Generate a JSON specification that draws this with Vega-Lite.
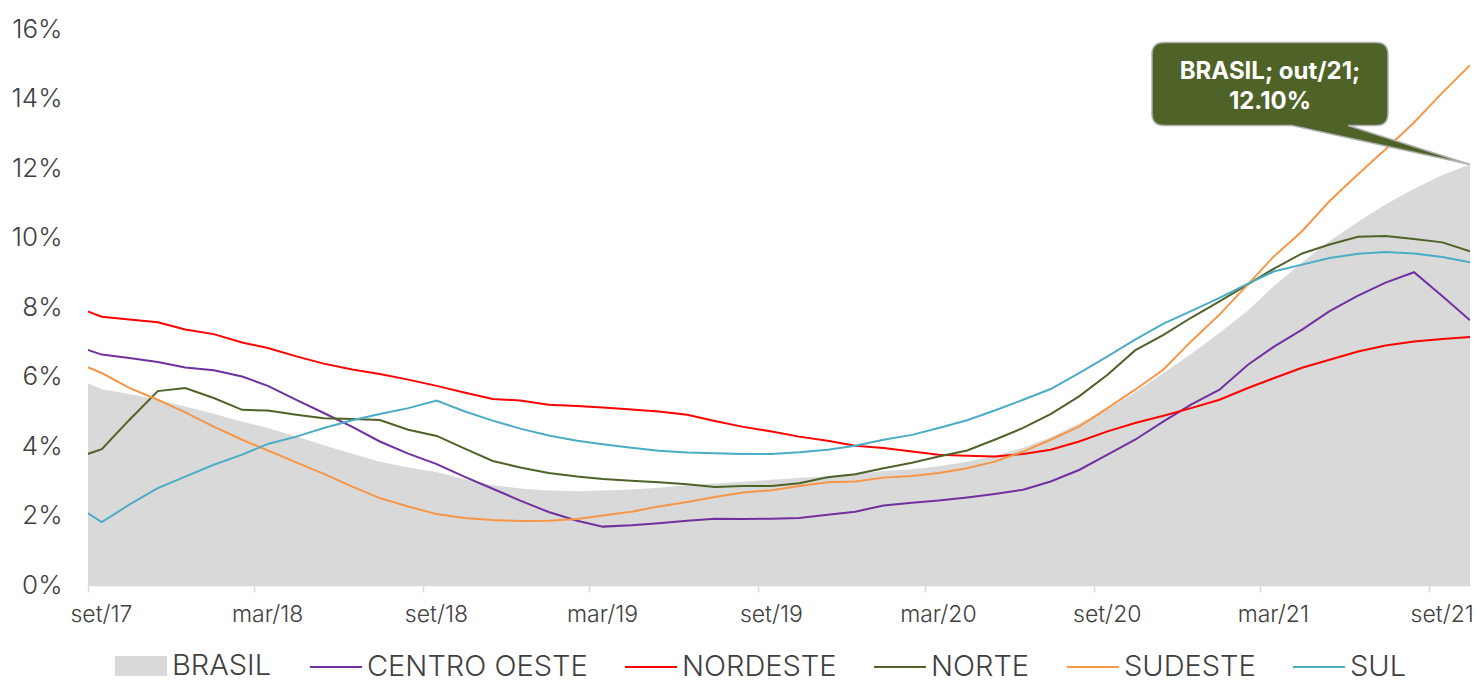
{
  "$schema": "https://vega.github.io/schema/vega-lite/v6.json",
  "autosize": {"type": "none"},
  "padding": {"left": 88, "top": 29, "right": 7, "bottom": 97},
  "width": 1382,
  "height": 556,
  "background": "white",
  "config": {
    "view": {"stroke": null},
    "font": "Inter",
    "axis": {"grid": false, "labelColor": "#404040", "labelFont": "Inter", "labelFontWeight": 300, "title": null},
    "legend": {"labelFont": "Inter", "labelFontWeight": 300}
  },
  "datasets": {
    "serie": [
      {"mes": "2017-08-16", "BRASIL": 5.99, "CENTRO OESTE": 6.90, "NORDESTE": 8.03, "NORTE": 3.63, "SUDESTE": 6.44, "SUL": 2.33},
      {"mes": "2017-09-16", "BRASIL": 5.63, "CENTRO OESTE": 6.63, "NORDESTE": 7.72, "NORTE": 3.91, "SUDESTE": 6.10, "SUL": 1.81},
      {"mes": "2017-10-16", "BRASIL": 5.50, "CENTRO OESTE": 6.53, "NORDESTE": 7.64, "NORTE": 4.75, "SUDESTE": 5.67, "SUL": 2.31},
      {"mes": "2017-11-16", "BRASIL": 5.33, "CENTRO OESTE": 6.42, "NORDESTE": 7.56, "NORTE": 5.58, "SUDESTE": 5.33, "SUL": 2.79},
      {"mes": "2017-12-16", "BRASIL": 5.14, "CENTRO OESTE": 6.26, "NORDESTE": 7.35, "NORTE": 5.67, "SUDESTE": 4.97, "SUL": 3.12},
      {"mes": "2018-01-16", "BRASIL": 4.93, "CENTRO OESTE": 6.18, "NORDESTE": 7.22, "NORTE": 5.38, "SUDESTE": 4.56, "SUL": 3.46},
      {"mes": "2018-02-16", "BRASIL": 4.70, "CENTRO OESTE": 6.00, "NORDESTE": 6.98, "NORTE": 5.04, "SUDESTE": 4.18, "SUL": 3.75},
      {"mes": "2018-03-16", "BRASIL": 4.52, "CENTRO OESTE": 5.73, "NORDESTE": 6.82, "NORTE": 5.02, "SUDESTE": 3.87, "SUL": 4.06},
      {"mes": "2018-04-16", "BRASIL": 4.27, "CENTRO OESTE": 5.33, "NORDESTE": 6.58, "NORTE": 4.90, "SUDESTE": 3.53, "SUL": 4.27},
      {"mes": "2018-05-16", "BRASIL": 4.02, "CENTRO OESTE": 4.95, "NORDESTE": 6.37, "NORTE": 4.80, "SUDESTE": 3.20, "SUL": 4.52},
      {"mes": "2018-06-16", "BRASIL": 3.78, "CENTRO OESTE": 4.55, "NORDESTE": 6.20, "NORTE": 4.78, "SUDESTE": 2.83, "SUL": 4.74},
      {"mes": "2018-07-16", "BRASIL": 3.55, "CENTRO OESTE": 4.13, "NORDESTE": 6.07, "NORTE": 4.75, "SUDESTE": 2.50, "SUL": 4.92},
      {"mes": "2018-08-16", "BRASIL": 3.38, "CENTRO OESTE": 3.78, "NORDESTE": 5.91, "NORTE": 4.47, "SUDESTE": 2.26, "SUL": 5.09},
      {"mes": "2018-09-16", "BRASIL": 3.25, "CENTRO OESTE": 3.48, "NORDESTE": 5.73, "NORTE": 4.29, "SUDESTE": 2.04, "SUL": 5.31},
      {"mes": "2018-10-16", "BRASIL": 3.05, "CENTRO OESTE": 3.12, "NORDESTE": 5.54, "NORTE": 3.93, "SUDESTE": 1.93, "SUL": 5.00},
      {"mes": "2018-11-16", "BRASIL": 2.87, "CENTRO OESTE": 2.77, "NORDESTE": 5.35, "NORTE": 3.57, "SUDESTE": 1.87, "SUL": 4.73},
      {"mes": "2018-12-16", "BRASIL": 2.78, "CENTRO OESTE": 2.43, "NORDESTE": 5.31, "NORTE": 3.38, "SUDESTE": 1.84, "SUL": 4.50},
      {"mes": "2019-01-16", "BRASIL": 2.72, "CENTRO OESTE": 2.10, "NORDESTE": 5.19, "NORTE": 3.22, "SUDESTE": 1.85, "SUL": 4.30},
      {"mes": "2019-02-16", "BRASIL": 2.70, "CENTRO OESTE": 1.85, "NORDESTE": 5.15, "NORTE": 3.12, "SUDESTE": 1.90, "SUL": 4.15},
      {"mes": "2019-03-16", "BRASIL": 2.72, "CENTRO OESTE": 1.68, "NORDESTE": 5.11, "NORTE": 3.05, "SUDESTE": 2.00, "SUL": 4.05},
      {"mes": "2019-04-16", "BRASIL": 2.75, "CENTRO OESTE": 1.72, "NORDESTE": 5.05, "NORTE": 3.00, "SUDESTE": 2.11, "SUL": 3.95},
      {"mes": "2019-05-16", "BRASIL": 2.80, "CENTRO OESTE": 1.78, "NORDESTE": 4.99, "NORTE": 2.96, "SUDESTE": 2.26, "SUL": 3.86},
      {"mes": "2019-06-16", "BRASIL": 2.87, "CENTRO OESTE": 1.85, "NORDESTE": 4.90, "NORTE": 2.90, "SUDESTE": 2.39, "SUL": 3.81},
      {"mes": "2019-07-16", "BRASIL": 2.92, "CENTRO OESTE": 1.91, "NORDESTE": 4.72, "NORTE": 2.82, "SUDESTE": 2.53, "SUL": 3.79},
      {"mes": "2019-08-16", "BRASIL": 2.97, "CENTRO OESTE": 1.90, "NORDESTE": 4.55, "NORTE": 2.85, "SUDESTE": 2.66, "SUL": 3.77},
      {"mes": "2019-09-16", "BRASIL": 3.03, "CENTRO OESTE": 1.91, "NORDESTE": 4.42, "NORTE": 2.85, "SUDESTE": 2.73, "SUL": 3.77},
      {"mes": "2019-10-16", "BRASIL": 3.08, "CENTRO OESTE": 1.93, "NORDESTE": 4.27, "NORTE": 2.93, "SUDESTE": 2.85, "SUL": 3.82},
      {"mes": "2019-11-16", "BRASIL": 3.13, "CENTRO OESTE": 2.02, "NORDESTE": 4.15, "NORTE": 3.10, "SUDESTE": 2.96, "SUL": 3.89},
      {"mes": "2019-12-16", "BRASIL": 3.20, "CENTRO OESTE": 2.11, "NORDESTE": 4.01, "NORTE": 3.19, "SUDESTE": 2.98, "SUL": 4.01},
      {"mes": "2020-01-16", "BRASIL": 3.28, "CENTRO OESTE": 2.29, "NORDESTE": 3.94, "NORTE": 3.36, "SUDESTE": 3.09, "SUL": 4.18},
      {"mes": "2020-02-16", "BRASIL": 3.33, "CENTRO OESTE": 2.37, "NORDESTE": 3.84, "NORTE": 3.52, "SUDESTE": 3.14, "SUL": 4.32},
      {"mes": "2020-03-16", "BRASIL": 3.42, "CENTRO OESTE": 2.43, "NORDESTE": 3.75, "NORTE": 3.70, "SUDESTE": 3.22, "SUL": 4.52},
      {"mes": "2020-04-16", "BRASIL": 3.55, "CENTRO OESTE": 2.52, "NORDESTE": 3.72, "NORTE": 3.87, "SUDESTE": 3.36, "SUL": 4.74},
      {"mes": "2020-05-16", "BRASIL": 3.72, "CENTRO OESTE": 2.62, "NORDESTE": 3.70, "NORTE": 4.18, "SUDESTE": 3.55, "SUL": 5.02},
      {"mes": "2020-06-16", "BRASIL": 3.95, "CENTRO OESTE": 2.74, "NORDESTE": 3.77, "NORTE": 4.52, "SUDESTE": 3.84, "SUL": 5.33},
      {"mes": "2020-07-16", "BRASIL": 4.25, "CENTRO OESTE": 2.98, "NORDESTE": 3.89, "NORTE": 4.92, "SUDESTE": 4.18, "SUL": 5.64},
      {"mes": "2020-08-16", "BRASIL": 4.65, "CENTRO OESTE": 3.31, "NORDESTE": 4.13, "NORTE": 5.43, "SUDESTE": 4.56, "SUL": 6.10},
      {"mes": "2020-09-16", "BRASIL": 5.05, "CENTRO OESTE": 3.75, "NORDESTE": 4.42, "NORTE": 6.05, "SUDESTE": 5.09, "SUL": 6.58},
      {"mes": "2020-10-16", "BRASIL": 5.55, "CENTRO OESTE": 4.18, "NORDESTE": 4.66, "NORTE": 6.75, "SUDESTE": 5.62, "SUL": 7.06},
      {"mes": "2020-11-16", "BRASIL": 6.10, "CENTRO OESTE": 4.71, "NORDESTE": 4.87, "NORTE": 7.20, "SUDESTE": 6.20, "SUL": 7.52},
      {"mes": "2020-12-16", "BRASIL": 6.65, "CENTRO OESTE": 5.19, "NORDESTE": 5.09, "NORTE": 7.69, "SUDESTE": 7.01, "SUL": 7.88},
      {"mes": "2021-01-16", "BRASIL": 7.25, "CENTRO OESTE": 5.62, "NORDESTE": 5.33, "NORTE": 8.16, "SUDESTE": 7.78, "SUL": 8.26},
      {"mes": "2021-02-16", "BRASIL": 7.90, "CENTRO OESTE": 6.34, "NORDESTE": 5.67, "NORTE": 8.65, "SUDESTE": 8.65, "SUL": 8.67},
      {"mes": "2021-03-16", "BRASIL": 8.60, "CENTRO OESTE": 6.85, "NORDESTE": 5.95, "NORTE": 9.10, "SUDESTE": 9.45, "SUL": 9.02},
      {"mes": "2021-04-16", "BRASIL": 9.28, "CENTRO OESTE": 7.35, "NORDESTE": 6.25, "NORTE": 9.54, "SUDESTE": 10.18, "SUL": 9.22},
      {"mes": "2021-05-16", "BRASIL": 9.90, "CENTRO OESTE": 7.88, "NORDESTE": 6.48, "NORTE": 9.80, "SUDESTE": 11.05, "SUL": 9.41},
      {"mes": "2021-06-16", "BRASIL": 10.45, "CENTRO OESTE": 8.33, "NORDESTE": 6.72, "NORTE": 10.02, "SUDESTE": 11.82, "SUL": 9.53},
      {"mes": "2021-07-16", "BRASIL": 10.95, "CENTRO OESTE": 8.70, "NORDESTE": 6.89, "NORTE": 10.04, "SUDESTE": 12.54, "SUL": 9.58},
      {"mes": "2021-08-16", "BRASIL": 11.40, "CENTRO OESTE": 9.00, "NORDESTE": 7.01, "NORTE": 9.96, "SUDESTE": 13.31, "SUL": 9.54},
      {"mes": "2021-09-16", "BRASIL": 11.80, "CENTRO OESTE": 8.31, "NORDESTE": 7.08, "NORTE": 9.86, "SUDESTE": 14.17, "SUL": 9.44},
      {"mes": "2021-10-16", "BRASIL": 12.10, "CENTRO OESTE": 7.62, "NORDESTE": 7.14, "NORTE": 9.60, "SUDESTE": 14.96, "SUL": 9.29}
    ],
    "destaque": [
      {"mes": "2021-10-16", "valor": 12.10}
    ]
  },
  "data": {"name": "serie"},
  "transform": [
    {"fold": ["BRASIL", "CENTRO OESTE", "NORDESTE", "NORTE", "SUDESTE", "SUL"], "as": ["regiao", "valor"]}
  ],
  "encoding": {
    "x": {
      "field": "mes",
      "type": "temporal",
      "scale": {"domain": [{"year": 2017, "month": 9, "date": 1}, {"year": 2021, "month": 10, "date": 16}]},
      "axis": {
        "values": [
          {"year": 2017, "month": 9, "date": 1},
          {"year": 2018, "month": 3, "date": 1},
          {"year": 2018, "month": 9, "date": 1},
          {"year": 2019, "month": 3, "date": 1},
          {"year": 2019, "month": 9, "date": 1},
          {"year": 2020, "month": 3, "date": 1},
          {"year": 2020, "month": 9, "date": 1},
          {"year": 2021, "month": 3, "date": 1},
          {"year": 2021, "month": 9, "date": 1}
        ],
        "labelExpr": "(month(datum.value) == 2 ? 'mar' : 'set') + '/' + timeFormat(datum.value, '%y')",
        "labelFontSize": 23,
        "labelPadding": 11,
        "labelOffset": 13,
        "tickSize": 7,
        "tickColor": "#D9D9D9",
        "tickWidth": 1.5,
        "domainColor": "#D9D9D9",
        "domainWidth": 1.5,
        "labelFlush": false,
        "labelOverlap": false
      }
    },
    "y": {
      "field": "valor",
      "type": "quantitative",
      "scale": {"domain": [0, 16], "nice": false},
      "axis": {
        "values": [0, 2, 4, 6, 8, 10, 12, 14, 16],
        "labelExpr": "datum.value + '%'",
        "labelFontSize": 26,
        "labelPadding": 26,
        "ticks": false,
        "domain": false
      }
    }
  },
  "layer": [
    {
      "transform": [{"filter": "datum.regiao === 'BRASIL'"}],
      "mark": {"type": "area", "clip": true, "opacity": 1},
      "encoding": {
        "fill": {
          "field": "regiao",
          "type": "nominal",
          "scale": {"domain": ["BRASIL"], "range": ["#D9D9D9"]},
          "legend": {
            "orient": "none",
            "legendX": 27,
            "legendY": 611,
            "direction": "horizontal",
            "title": null,
            "labelFontSize": 29,
            "labelColor": "#404040",
            "labelOffset": 5,
            "symbolType": "M-1,-0.385H1V0.385H-1Z",
            "symbolSize": 2704,
            "symbolStrokeWidth": 0,
            "symbolOpacity": 1,
            "padding": 0,
            "labelLimit": 400
          }
        }
      }
    },
    {
      "transform": [{"filter": "datum.regiao !== 'BRASIL'"}],
      "mark": {"type": "line", "clip": true, "strokeWidth": 2},
      "encoding": {
        "color": {
          "field": "regiao",
          "type": "nominal",
          "scale": {
            "domain": ["CENTRO OESTE", "NORDESTE", "NORTE", "SUDESTE", "SUL"],
            "range": ["#7030A0", "#FF0000", "#4F6228", "#F79646", "#4BACC6"]
          },
          "legend": {
            "orient": "none",
            "legendX": 221,
            "legendY": 611,
            "direction": "horizontal",
            "title": null,
            "labelFontSize": 29,
            "labelColor": "#404040",
            "labelOffset": 4,
            "columnPadding": 33,
            "symbolType": "stroke",
            "symbolSize": 2704,
            "symbolStrokeWidth": 2,
            "padding": 0,
            "labelLimit": 400
          }
        }
      }
    },
    {
      "data": {"name": "destaque"},
      "mark": {
        "type": "point",
        "filled": true,
        "fill": "#4F6228",
        "stroke": "#B0B0B0",
        "strokeWidth": 1.5,
        "opacity": 1,
        "size": 40000,
        "shape": "M-3.06,-1.22L-0.94,-1.22Q-0.82,-1.22,-0.82,-1.1L-0.82,-0.51Q-0.82,-0.39,-0.94,-0.39L-1.22,-0.39L0,0L-1.78,-0.39L-3.06,-0.39Q-3.18,-0.39,-3.18,-0.51L-3.18,-1.1Q-3.18,-1.22,-3.06,-1.22Z"
      },
      "encoding": {
        "x": {"field": "mes", "type": "temporal"},
        "y": {"field": "valor", "type": "quantitative"}
      }
    },
    {
      "data": {"name": "destaque"},
      "mark": {
        "type": "text",
        "align": "center",
        "baseline": "middle",
        "dx": -200,
        "dy": -93,
        "font": "Inter",
        "fontSize": 24,
        "fontWeight": "bold",
        "lineHeight": 30,
        "color": "white"
      },
      "encoding": {
        "x": {"field": "mes", "type": "temporal"},
        "y": {"field": "valor", "type": "quantitative"},
        "text": {"value": ["BRASIL; out/21;", "12.10%"]}
      }
    }
  ]
}
